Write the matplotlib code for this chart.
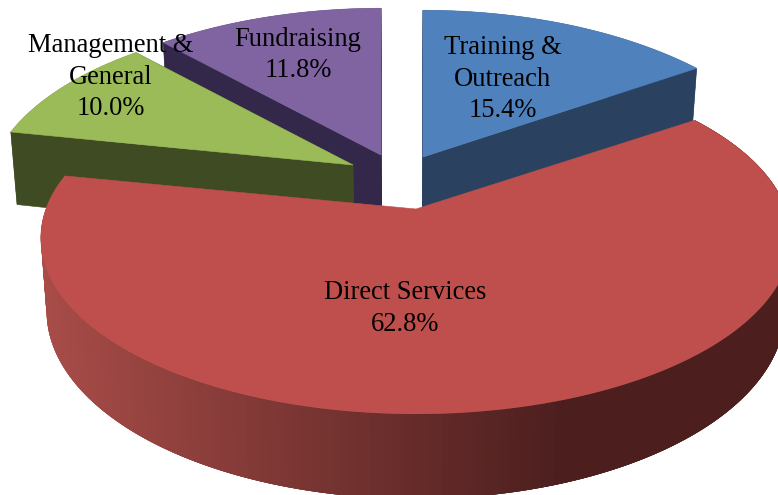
import numpy as np
import matplotlib
matplotlib.use("Agg")
import matplotlib.pyplot as plt
from matplotlib.patches import Polygon

# Data
categories = ["Training &\nOutreach", "Direct Services", "Management &\nGeneral", "Fundraising"]
shares = [15.4, 62.8, 10.0, 11.8]
pct_labels = ["15.4%", "62.8%", "10.0%", "11.8%"]

# Styles / layout
top_colors = ["#4F81BD", "#BE4F4C", "#9BBB59", "#8064A2"]
side_colors = ["#2A4260", "#4E1F1F", "#3F4B22", "#33284A"]
apexes = [(423, 157), (416, 209), (353, 165), (381, 155)]
x_scale = [1.0, 1.0, 0.975, 1.0]
x_persp = [0.2, 0.165, 0.165, 0.2]
heights = [71, 71, 75, 71]
label_pos = [(503, 79), (405, 308.5), (111, 77), (298, 55)]
draw_order = [0, 3, 2, 1]
A_RAD, B_RAD, PERSP, VANISH_X, VSHIFT = 370, 171, 0.165, 400, 0.016

fig = plt.figure(figsize=(7.78, 4.95), dpi=100)
ax = fig.add_axes([0, 0, 1, 1])
ax.set_xlim(0, 778)
ax.set_ylim(495, 0)
ax.axis("off")


def top(i, theta):
    apex = apexes[i]
    u, v = np.sin(theta), np.cos(theta)
    return np.column_stack([apex[0] + x_scale[i] * A_RAD * u / (1 + x_persp[i] * v),
                            apex[1] - B_RAD * v / (1 + PERSP * v)])


def bottom(i, theta):
    p = top(i, theta)
    w = 1 + PERSP * np.cos(theta)
    return np.column_stack([p[:, 0] + (VANISH_X - p[:, 0]) * VSHIFT, p[:, 1] + heights[i] / w])


def apex_bottom(i):
    apex = apexes[i]
    return (apex[0] + (VANISH_X - apex[0]) * VSHIFT, apex[1] + heights[i])


def red_shade(x):
    c0 = np.array([168, 76, 72]); c1 = np.array([76, 31, 30])
    t = np.clip((x - 45) / (565 - 45), 0, 1)
    return (c0 + (c1 - c0) * t) / 255


edges = np.cumsum([0] + shares) / sum(shares) * 2 * np.pi
for i in draw_order:
    a0, a1 = edges[i], edges[i + 1]
    apex = apexes[i]
    th = np.linspace(a0, a1, 240)
    t_pts, b_pts = top(i, th), bottom(i, th)
    if i == 1:
        for k in range(len(th) - 2, -1, -1):
            col = red_shade(t_pts[k, 0])
            lo, hi = max(k - 3, 0), k + 2
            quad = np.vstack([t_pts[lo:hi], b_pts[lo:hi][::-1]])
            ax.add_patch(Polygon(quad, closed=True, fc=col, ec="none", lw=0))
    else:
        ax.add_patch(Polygon(np.vstack([t_pts, b_pts[::-1]]), closed=True, fc=side_colors[i], ec="none", lw=0))
        for tp, bp in ((t_pts[0], b_pts[0]), (t_pts[-1], b_pts[-1])):
            face = np.array([apex, tp, bp, apex_bottom(i)])
            ax.add_patch(Polygon(face, closed=True, fc=side_colors[i], ec=side_colors[i], lw=0.4))
    ax.add_patch(Polygon(np.vstack([[apex], t_pts]), closed=True, fc=top_colors[i], ec=top_colors[i], lw=0.4))

for cat, pct, (x, y) in zip(categories, pct_labels, label_pos):
    ax.text(x, y, f"{cat}\n{pct}", ha="center", va="center", family="Liberation Serif",
            fontsize=19.1, color="black", linespacing=1.36, zorder=10)

fig.savefig("out.png", dpi=100)
